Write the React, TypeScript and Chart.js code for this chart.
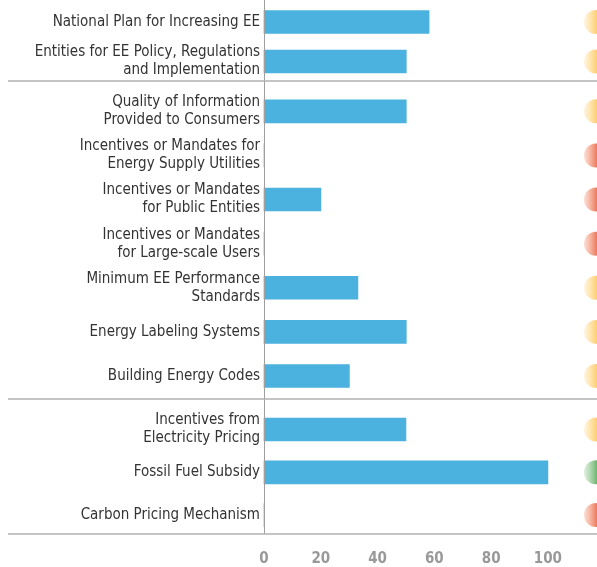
import React, { useEffect, useRef } from 'react';
import { Chart, registerables } from 'chart.js';

Chart.register(...registerables);

const categories: (string | string[])[] = [
  'National Plan for Increasing EE',
  ['Entities for EE Policy, Regulations', 'and Implementation'],
  ['Quality of Information', 'Provided to Consumers'],
  ['Incentives or Mandates for', 'Energy Supply Utilities'],
  ['Incentives or Mandates', 'for Public Entities'],
  ['Incentives or Mandates', 'for Large-scale Users'],
  ['Minimum EE Performance', 'Standards'],
  'Energy Labeling Systems',
  'Building Energy Codes',
  ['Incentives from', 'Electricity Pricing'],
  'Fossil Fuel Subsidy',
  'Carbon Pricing Mechanism',
];

const scores = [58, 50, 50, 0, 20, 0, 33, 50, 30, 50, 100, 0];

const statuses = ['yellow', 'yellow', 'yellow', 'red', 'red', 'red', 'yellow', 'yellow', 'yellow', 'yellow', 'green', 'red'];

const groupSizes = [2, 7, 3];

const xTicks = [0, 20, 40, 60, 80, 100];

const statusColors: Record<string, [string, string]> = {
  yellow: ['rgba(255,225,160,0.35)', 'rgba(255,205,110,1)'],
  red: ['rgba(245,160,130,0.35)', 'rgba(236,120,90,1)'],
  green: ['rgba(160,210,160,0.35)', 'rgba(110,178,110,1)'],
};

const FONT = '"Liberation Sans Narrow", "DejaVu Sans Condensed", sans-serif';

type Panel = {
  height: number;
  padTop: number;
  padBottom: number;
  lines: number[];
  axisBottom: number;
  showX: boolean;
};

const panels: Panel[] = [
  { height: 82, padTop: 21.5, padBottom: 20.5, lines: [81], axisBottom: 82, showX: false },
  { height: 316, padTop: 29.3, padBottom: 15.7, lines: [], axisBottom: 316, showX: false },
  { height: 169, padTop: 31.5, padBottom: 0, lines: [1, 136], axisBottom: 136, showX: true },
];

function PanelChart({ idx }: { idx: number }) {
  const ref = useRef<HTMLCanvasElement | null>(null);
  useEffect(() => {
    const p = panels[idx];
    const start = groupSizes.slice(0, idx).reduce((a, b) => a + b, 0);
    const end = start + groupSizes[idx];
    const labels = categories.slice(start, end);
    const vals = scores.slice(start, end);
    const stats = statuses.slice(start, end);

    const deco = {
      id: 'deco',
      afterDraw(chart: any) {
        const ctx = chart.ctx;
        const ca = chart.chartArea;
        const ys = chart.scales.y;
        ctx.save();
        ctx.strokeStyle = '#a0a0a0';
        ctx.lineWidth = 1;
        ctx.beginPath();
        ctx.moveTo(Math.round(ca.left) + 0.5, 0);
        ctx.lineTo(Math.round(ca.left) + 0.5, p.axisBottom);
        ctx.stroke();
        ctx.strokeStyle = '#b0b0b0';
        ctx.lineWidth = 1.5;
        p.lines.forEach((ly) => {
          ctx.beginPath();
          ctx.moveTo(8, ly);
          ctx.lineTo(chart.width, ly);
          ctx.stroke();
        });
        stats.forEach((s, i) => {
          const cy = ys.getPixelForValue(i);
          const cx = chart.width - 1;
          const r = 12;
          const [c0, c1] = statusColors[s];
          const g = ctx.createLinearGradient(cx - r, 0, chart.width, 0);
          g.addColorStop(0, c0);
          g.addColorStop(1, c1);
          ctx.fillStyle = g;
          ctx.beginPath();
          ctx.arc(cx, cy, r, 0, Math.PI * 2);
          ctx.fill();
        });
        ctx.restore();
      },
    };

    const chart = new Chart(ref.current!, {
      type: 'bar',
      data: {
        labels,
        datasets: [
          {
            data: vals,
            backgroundColor: '#4BB1DF',
            barThickness: 23,
            clip: false,
          },
        ],
      },
      options: {
        indexAxis: 'y',
        animation: false,
        responsive: false,
        layout: { padding: { left: 8, right: 0, top: p.padTop, bottom: p.padBottom } },
        plugins: { legend: { display: false }, tooltip: { enabled: false } },
        scales: {
          y: {
            type: 'category',
            offset: false,
            grid: { display: false, drawTicks: false },
            border: { display: false },
            ticks: {
              color: '#333333',
              padding: 4,
              autoSkip: false,
              font: { family: FONT, size: 15 },
            },
            afterFit: (s: any) => {
              s.width = 256;
            },
          },
          x: {
            min: 0,
            max: 117,
            display: p.showX,
            grid: { display: false, drawTicks: false },
            border: { display: false },
            afterBuildTicks: (s: any) => {
              s.ticks = xTicks.map((v) => ({ value: v }));
            },
            ticks: {
              color: '#999999',
              padding: 35,
              autoSkip: false,
              maxRotation: 0,
              font: { family: FONT, size: 15, weight: 'bold' },
            },
            afterFit: (s: any) => {
              if (p.showX) s.height = p.height - 117.1 - p.padTop + 31.5;
            },
          },
        },
      },
      plugins: [deco],
    } as any);
    return () => chart.destroy();
  }, [idx]);
  const p = panels[idx];
  return <canvas ref={ref} width={597} height={p.height} style={{ display: 'block' }} />;
}

export default function App() {
  return (
    <div
      style={{
        position: 'fixed',
        left: 0,
        top: 0,
        width: 597,
        height: 567,
        background: '#fff',
        overflow: 'hidden',
      }}
    >
      {panels.map((_, i) => (
        <PanelChart key={i} idx={i} />
      ))}
    </div>
  );
}
